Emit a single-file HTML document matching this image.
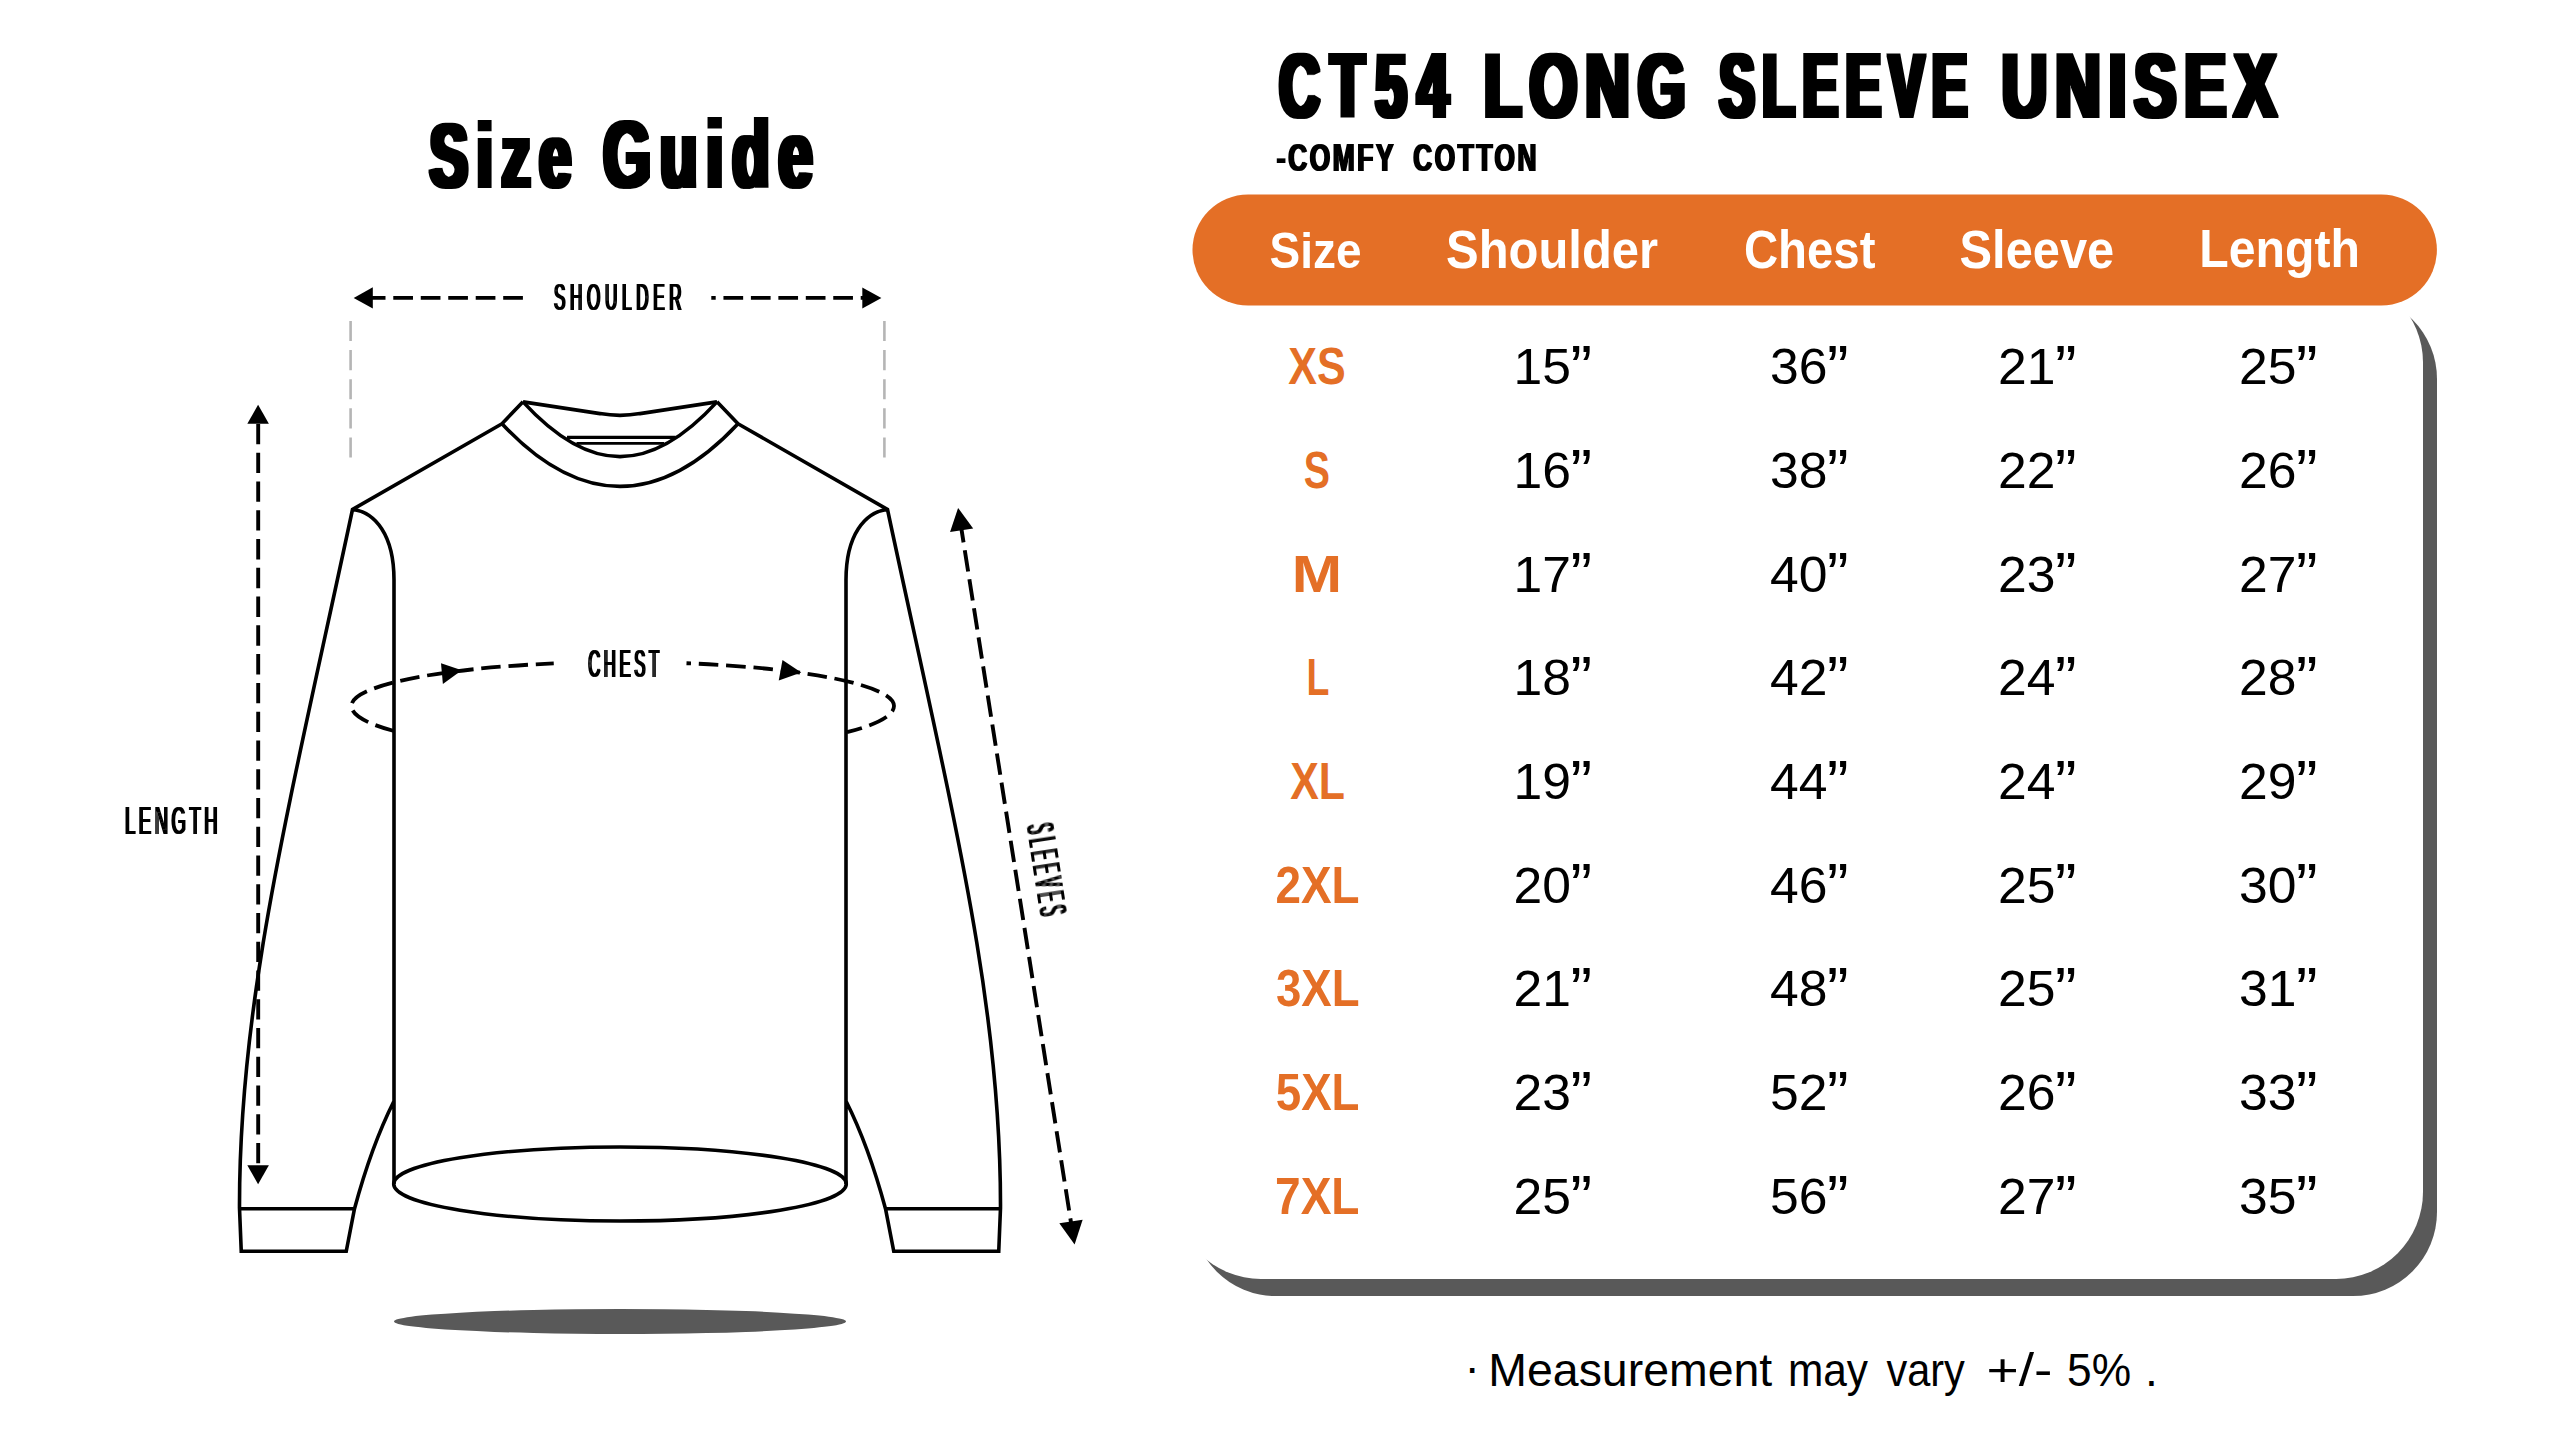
<!DOCTYPE html>
<html lang="en"><head><meta charset="utf-8"><title>CT54 Long Sleeve Unisex Size Guide</title>
<style>html,body{margin:0;padding:0;background:#fff;overflow:hidden}svg{display:block}text{white-space:pre}</style></head>
<body><svg width="2560" height="1440" viewBox="0 0 2560 1440">
<rect width="2560" height="1440" fill="#fff"/>
<defs>
<filter id="fat31" x="-5%" y="-20%" width="110%" height="140%"><feMorphology operator="dilate" radius="3 1"/></filter>
<filter id="fat21" x="-5%" y="-20%" width="110%" height="140%"><feMorphology operator="dilate" radius="2 1"/></filter>
<filter id="fat20" x="-5%" y="-20%" width="110%" height="140%"><feMorphology operator="dilate" radius="2 0"/></filter>
<filter id="fat10" x="-5%" y="-20%" width="110%" height="140%"><feMorphology operator="dilate" radius="1 0"/></filter>
</defs>
<g filter="url(#fat31)"><text transform="translate(429.69,187.30) scale(0.6336,1)" font-family="'Liberation Sans', sans-serif" font-weight="bold" font-size="90.21" fill="#000" letter-spacing="14.20" >Size</text>
<text transform="translate(603.36,187.30) scale(0.6523,1)" font-family="'Liberation Sans', sans-serif" font-weight="bold" font-size="93.66" fill="#000" letter-spacing="13.80" >Guide</text></g>
<g fill="none" stroke="#000" stroke-width="3.6" stroke-linejoin="miter" stroke-linecap="butt">
<path d="M502,423.75 L352.5,509.5 C288.4,810 239,1000 239.5,1208 L241.25,1251.25 L346.25,1251.25 L354.5,1208.75 C365.3,1168.75 376.25,1136.25 393.9,1101.25 M239.5,1208.75 L354.5,1208.75 M352.5,509.5 C375,512 394,535 394,580 L394,1184 M523,401.75 L502,423.75"/>
<path d="M502,423.75 L352.5,509.5 C288.4,810 239,1000 239.5,1208 L241.25,1251.25 L346.25,1251.25 L354.5,1208.75 C365.3,1168.75 376.25,1136.25 393.9,1101.25 M239.5,1208.75 L354.5,1208.75 M352.5,509.5 C375,512 394,535 394,580 L394,1184 M523,401.75 L502,423.75" transform="translate(1240,0) scale(-1,1)"/>
<ellipse cx="620" cy="1184" rx="226.3" ry="37"/>
<path d="M502,423.75 C580,507.3 660,507.3 738,423.75"/>
<path d="M523,401.9 C590,474.9 650,474.9 717,401.9"/>
<path d="M523,401.9 L600,413.6 Q620,417.2 640,413.6 L717,401.9"/>
<path d="M567,437.4 L675.5,437.4" stroke-width="3.3"/>
<path d="M576.5,443.3 L664,443.3" stroke-width="2.7"/>
</g>
<ellipse cx="620" cy="1321.5" rx="226" ry="12.5" fill="#595959"/>
<g fill="none" stroke="#000" stroke-width="3.8">
<path d="M365.8,297.9 L523,297.9" stroke-dasharray="19.7 7.78"/>
<path d="M711.3,297.9 L875,297.9" stroke-dasharray="19.7 7.75" stroke-dashoffset="15.3"/>
<path d="M258.2,424.04 L258.2,1166" stroke-dasharray="20.3 8.46" stroke-width="3.9"/>
<path d="M960.19,521.15 L1071.25,1224" stroke-dasharray="21.5 7.91" stroke-width="3.9"/>
</g>
<g fill="none" stroke="#b5b5b5" stroke-width="2.6"><path d="M350.6,321 L350.6,458" stroke-dasharray="20.1 9"/><path d="M884.4,321 L884.4,458" stroke-dasharray="20.1 9"/></g>
<g fill="#000">
<path d="M353.7,297.9 L372.8,287.3 L372.8,308.5Z"/>
<path d="M881.4,297.9 L862.3,287.5 L862.3,308.4Z"/>
<path d="M258.1,404.7 L247.3,423.7 L268.9,423.7Z"/>
<path d="M258.1,1184.2 L247.3,1165.2 L268.9,1165.2Z"/>
<path d="M958.10,507.90 L973.18,528.40 L950.07,532.05Z"/>
<path d="M1074.60,1244.40 L1059.32,1223.33 L1082.63,1219.64Z"/>
<path d="M461.8,670.2 L441.0,663.3 L442.9,684.0Z"/>
<path d="M801.25,672.5 L782.5,660 L778.75,680.5Z"/>
</g>
<g fill="none" stroke="#000" stroke-width="3.8">
<path d="M394,731.01 A271.3,46.5 0 0 1 351.40,706 A271.3,44 0 0 1 553.75,663.44" stroke-dasharray="19.5 7.8" stroke-dashoffset="0"/>
<path d="M686.5,663.23 A271.3,44 0 0 1 894.00,706 A271.3,46.5 0 0 1 847,732.16" stroke-dasharray="19.5 7.8" stroke-dashoffset="15"/>
</g>
<g filter="url(#fat10)"><text transform="translate(554.03,310.00) scale(0.4504,1)" font-family="'Liberation Sans', sans-serif" font-weight="normal" font-size="37.86" fill="#000" letter-spacing="10.43" >SHOULDER</text></g>
<g filter="url(#fat10)"><text transform="translate(588.22,676.90) scale(0.4345,1)" font-family="'Liberation Sans', sans-serif" font-weight="normal" font-size="38.43" fill="#000" letter-spacing="8.29" >CHEST</text></g>
<g filter="url(#fat10)"><text transform="translate(124.93,834.30) scale(0.4762,1)" font-family="'Liberation Sans', sans-serif" font-weight="normal" font-size="38.71" fill="#000" letter-spacing="7.56" >LENGTH</text></g>
<g transform="translate(1026.4,825.5) rotate(81.3)"><g filter="url(#fat10)"><text transform="translate(0.37,0.00) scale(0.3646,1)" font-family="'Liberation Sans', sans-serif" font-weight="normal" font-size="38.57" fill="#000" letter-spacing="12.89" >SLEEVES</text></g></g>
<g filter="url(#fat31)"><text transform="translate(1279.17,117.30) scale(0.6102,1)" font-family="'Liberation Sans', sans-serif" font-weight="bold" font-size="91.43" fill="#000" letter-spacing="18.03" >CT54</text>
<text transform="translate(1484.01,117.30) scale(0.6721,1)" font-family="'Liberation Sans', sans-serif" font-weight="bold" font-size="91.43" fill="#000" letter-spacing="11.90" >LONG</text>
<text transform="translate(1719.42,117.30) scale(0.5758,1)" font-family="'Liberation Sans', sans-serif" font-weight="bold" font-size="91.43" fill="#000" letter-spacing="13.89" >SLEEVE</text>
<text transform="translate(2001.72,117.30) scale(0.6890,1)" font-family="'Liberation Sans', sans-serif" font-weight="bold" font-size="91.43" fill="#000" letter-spacing="11.61" >UNISEX</text></g>
<g filter="url(#fat10)"><text transform="translate(1276.85,171.00) scale(0.6665,1)" font-family="'Liberation Sans', sans-serif" font-weight="bold" font-size="39.43" fill="#000" letter-spacing="3.90" >-COMFY</text>
<text transform="translate(1413.35,171.00) scale(0.6639,1)" font-family="'Liberation Sans', sans-serif" font-weight="bold" font-size="39.43" fill="#000" letter-spacing="3.92" >COTTON</text></g>
<rect x="1192" y="295" width="1245" height="1001.1" rx="84" fill="#595959"/>
<rect x="1174" y="275.5" width="1249" height="1003.4" rx="87" fill="#fff"/>
<rect x="1192.5" y="194.4" width="1244.4" height="111.1" rx="55.55" fill="#E46F26"/>
<text transform="translate(1269.62,267.60) scale(0.9061,1)" font-family="'Liberation Sans', sans-serif" font-weight="bold" font-size="50.76" fill="#fff" >Size</text>
<text transform="translate(1446.03,267.60) scale(0.9030,1)" font-family="'Liberation Sans', sans-serif" font-weight="bold" font-size="54.21" fill="#fff" >Shoulder</text>
<text transform="translate(1743.90,267.60) scale(0.8740,1)" font-family="'Liberation Sans', sans-serif" font-weight="bold" font-size="54.21" fill="#fff" >Chest</text>
<text transform="translate(1959.54,267.60) scale(0.9001,1)" font-family="'Liberation Sans', sans-serif" font-weight="bold" font-size="54.21" fill="#fff" >Sleeve</text>
<text transform="translate(2199.37,267.20) scale(0.8984,1)" font-family="'Liberation Sans', sans-serif" font-weight="bold" font-size="53.66" fill="#fff" >Length</text>
<text transform="translate(1288.37,384.40) scale(0.8436,1)" font-family="'Liberation Sans', sans-serif" font-weight="bold" font-size="51.01" fill="#E46F26">XS</text>
<text transform="translate(1513.52,384.40) scale(1.0246,1)" font-family="'Liberation Sans', sans-serif" font-size="50.43" fill="#000">15<tspan x="55.63" dy="4.68" font-size="63.16">”</tspan></text>
<text transform="translate(1770.12,384.40) scale(1.0246,1)" font-family="'Liberation Sans', sans-serif" font-size="50.43" fill="#000">36<tspan x="55.63" dy="4.68" font-size="63.16">”</tspan></text>
<text transform="translate(1998.12,384.40) scale(1.0246,1)" font-family="'Liberation Sans', sans-serif" font-size="50.43" fill="#000">21<tspan x="55.63" dy="4.68" font-size="63.16">”</tspan></text>
<text transform="translate(2239.12,384.40) scale(1.0246,1)" font-family="'Liberation Sans', sans-serif" font-size="50.43" fill="#000">25<tspan x="55.63" dy="4.68" font-size="63.16">”</tspan></text>
<text transform="translate(1303.82,488.08) scale(0.7710,1)" font-family="'Liberation Sans', sans-serif" font-weight="bold" font-size="51.01" fill="#E46F26">S</text>
<text transform="translate(1513.52,488.08) scale(1.0246,1)" font-family="'Liberation Sans', sans-serif" font-size="50.43" fill="#000">16<tspan x="55.63" dy="4.68" font-size="63.16">”</tspan></text>
<text transform="translate(1770.12,488.08) scale(1.0246,1)" font-family="'Liberation Sans', sans-serif" font-size="50.43" fill="#000">38<tspan x="55.63" dy="4.68" font-size="63.16">”</tspan></text>
<text transform="translate(1998.12,488.08) scale(1.0246,1)" font-family="'Liberation Sans', sans-serif" font-size="50.43" fill="#000">22<tspan x="55.63" dy="4.68" font-size="63.16">”</tspan></text>
<text transform="translate(2239.12,488.08) scale(1.0246,1)" font-family="'Liberation Sans', sans-serif" font-size="50.43" fill="#000">26<tspan x="55.63" dy="4.68" font-size="63.16">”</tspan></text>
<text transform="translate(1291.87,591.76) scale(1.1845,1)" font-family="'Liberation Sans', sans-serif" font-weight="bold" font-size="51.01" fill="#E46F26">M</text>
<text transform="translate(1513.52,591.76) scale(1.0246,1)" font-family="'Liberation Sans', sans-serif" font-size="50.43" fill="#000">17<tspan x="55.63" dy="4.68" font-size="63.16">”</tspan></text>
<text transform="translate(1770.12,591.76) scale(1.0246,1)" font-family="'Liberation Sans', sans-serif" font-size="50.43" fill="#000">40<tspan x="55.63" dy="4.68" font-size="63.16">”</tspan></text>
<text transform="translate(1998.12,591.76) scale(1.0246,1)" font-family="'Liberation Sans', sans-serif" font-size="50.43" fill="#000">23<tspan x="55.63" dy="4.68" font-size="63.16">”</tspan></text>
<text transform="translate(2239.12,591.76) scale(1.0246,1)" font-family="'Liberation Sans', sans-serif" font-size="50.43" fill="#000">27<tspan x="55.63" dy="4.68" font-size="63.16">”</tspan></text>
<text transform="translate(1306.56,695.44) scale(0.7346,1)" font-family="'Liberation Sans', sans-serif" font-weight="bold" font-size="51.01" fill="#E46F26">L</text>
<text transform="translate(1513.52,695.44) scale(1.0246,1)" font-family="'Liberation Sans', sans-serif" font-size="50.43" fill="#000">18<tspan x="55.63" dy="4.68" font-size="63.16">”</tspan></text>
<text transform="translate(1770.12,695.44) scale(1.0246,1)" font-family="'Liberation Sans', sans-serif" font-size="50.43" fill="#000">42<tspan x="55.63" dy="4.68" font-size="63.16">”</tspan></text>
<text transform="translate(1998.12,695.44) scale(1.0246,1)" font-family="'Liberation Sans', sans-serif" font-size="50.43" fill="#000">24<tspan x="55.63" dy="4.68" font-size="63.16">”</tspan></text>
<text transform="translate(2239.12,695.44) scale(1.0246,1)" font-family="'Liberation Sans', sans-serif" font-size="50.43" fill="#000">28<tspan x="55.63" dy="4.68" font-size="63.16">”</tspan></text>
<text transform="translate(1290.17,799.12) scale(0.8402,1)" font-family="'Liberation Sans', sans-serif" font-weight="bold" font-size="51.01" fill="#E46F26">XL</text>
<text transform="translate(1513.52,799.12) scale(1.0246,1)" font-family="'Liberation Sans', sans-serif" font-size="50.43" fill="#000">19<tspan x="55.63" dy="4.68" font-size="63.16">”</tspan></text>
<text transform="translate(1770.12,799.12) scale(1.0246,1)" font-family="'Liberation Sans', sans-serif" font-size="50.43" fill="#000">44<tspan x="55.63" dy="4.68" font-size="63.16">”</tspan></text>
<text transform="translate(1998.12,799.12) scale(1.0246,1)" font-family="'Liberation Sans', sans-serif" font-size="50.43" fill="#000">24<tspan x="55.63" dy="4.68" font-size="63.16">”</tspan></text>
<text transform="translate(2239.12,799.12) scale(1.0246,1)" font-family="'Liberation Sans', sans-serif" font-size="50.43" fill="#000">29<tspan x="55.63" dy="4.68" font-size="63.16">”</tspan></text>
<text transform="translate(1275.50,902.80) scale(0.8982,1)" font-family="'Liberation Sans', sans-serif" font-weight="bold" font-size="51.01" fill="#E46F26">2XL</text>
<text transform="translate(1513.52,902.80) scale(1.0246,1)" font-family="'Liberation Sans', sans-serif" font-size="50.43" fill="#000">20<tspan x="55.63" dy="4.68" font-size="63.16">”</tspan></text>
<text transform="translate(1770.12,902.80) scale(1.0246,1)" font-family="'Liberation Sans', sans-serif" font-size="50.43" fill="#000">46<tspan x="55.63" dy="4.68" font-size="63.16">”</tspan></text>
<text transform="translate(1998.12,902.80) scale(1.0246,1)" font-family="'Liberation Sans', sans-serif" font-size="50.43" fill="#000">25<tspan x="55.63" dy="4.68" font-size="63.16">”</tspan></text>
<text transform="translate(2239.12,902.80) scale(1.0246,1)" font-family="'Liberation Sans', sans-serif" font-size="50.43" fill="#000">30<tspan x="55.63" dy="4.68" font-size="63.16">”</tspan></text>
<text transform="translate(1275.96,1006.48) scale(0.8931,1)" font-family="'Liberation Sans', sans-serif" font-weight="bold" font-size="51.01" fill="#E46F26">3XL</text>
<text transform="translate(1513.52,1006.48) scale(1.0246,1)" font-family="'Liberation Sans', sans-serif" font-size="50.43" fill="#000">21<tspan x="55.63" dy="4.68" font-size="63.16">”</tspan></text>
<text transform="translate(1770.12,1006.48) scale(1.0246,1)" font-family="'Liberation Sans', sans-serif" font-size="50.43" fill="#000">48<tspan x="55.63" dy="4.68" font-size="63.16">”</tspan></text>
<text transform="translate(1998.12,1006.48) scale(1.0246,1)" font-family="'Liberation Sans', sans-serif" font-size="50.43" fill="#000">25<tspan x="55.63" dy="4.68" font-size="63.16">”</tspan></text>
<text transform="translate(2239.12,1006.48) scale(1.0246,1)" font-family="'Liberation Sans', sans-serif" font-size="50.43" fill="#000">31<tspan x="55.63" dy="4.68" font-size="63.16">”</tspan></text>
<text transform="translate(1275.73,1110.16) scale(0.8956,1)" font-family="'Liberation Sans', sans-serif" font-weight="bold" font-size="51.01" fill="#E46F26">5XL</text>
<text transform="translate(1513.52,1110.16) scale(1.0246,1)" font-family="'Liberation Sans', sans-serif" font-size="50.43" fill="#000">23<tspan x="55.63" dy="4.68" font-size="63.16">”</tspan></text>
<text transform="translate(1770.12,1110.16) scale(1.0246,1)" font-family="'Liberation Sans', sans-serif" font-size="50.43" fill="#000">52<tspan x="55.63" dy="4.68" font-size="63.16">”</tspan></text>
<text transform="translate(1998.12,1110.16) scale(1.0246,1)" font-family="'Liberation Sans', sans-serif" font-size="50.43" fill="#000">26<tspan x="55.63" dy="4.68" font-size="63.16">”</tspan></text>
<text transform="translate(2239.12,1110.16) scale(1.0246,1)" font-family="'Liberation Sans', sans-serif" font-size="50.43" fill="#000">33<tspan x="55.63" dy="4.68" font-size="63.16">”</tspan></text>
<text transform="translate(1275.03,1213.84) scale(0.9033,1)" font-family="'Liberation Sans', sans-serif" font-weight="bold" font-size="51.01" fill="#E46F26">7XL</text>
<text transform="translate(1513.52,1213.84) scale(1.0246,1)" font-family="'Liberation Sans', sans-serif" font-size="50.43" fill="#000">25<tspan x="55.63" dy="4.68" font-size="63.16">”</tspan></text>
<text transform="translate(1770.12,1213.84) scale(1.0246,1)" font-family="'Liberation Sans', sans-serif" font-size="50.43" fill="#000">56<tspan x="55.63" dy="4.68" font-size="63.16">”</tspan></text>
<text transform="translate(1998.12,1213.84) scale(1.0246,1)" font-family="'Liberation Sans', sans-serif" font-size="50.43" fill="#000">27<tspan x="55.63" dy="4.68" font-size="63.16">”</tspan></text>
<text transform="translate(2239.12,1213.84) scale(1.0246,1)" font-family="'Liberation Sans', sans-serif" font-size="50.43" fill="#000">35<tspan x="55.63" dy="4.68" font-size="63.16">”</tspan></text>
<text x="1464.5" y="1382.6" font-family="'Liberation Sans', sans-serif" font-size="46.09" fill="#000">·</text>
<text transform="translate(1488.28,1386.4) scale(1.0080,1)" font-family="'Liberation Sans', sans-serif" font-size="46.09" fill="#000">Measurement</text>
<text transform="translate(1787.94,1386.4) scale(0.9204,1)" font-family="'Liberation Sans', sans-serif" font-size="46.09" fill="#000">may</text>
<text transform="translate(1886.49,1386.4) scale(0.9002,1)" font-family="'Liberation Sans', sans-serif" font-size="46.09" fill="#000">vary</text>
<text transform="translate(1986.54,1386.4) scale(1.1973,1)" font-family="'Liberation Sans', sans-serif" font-size="46.09" fill="#000">+/-</text>
<text transform="translate(2067.03,1386.4) scale(0.9614,1)" font-family="'Liberation Sans', sans-serif" font-size="46.09" fill="#000">5%</text>
<text x="2145" y="1386.4" font-family="'Liberation Sans', sans-serif" font-size="46.09" fill="#000">.</text>
</svg></body></html>
